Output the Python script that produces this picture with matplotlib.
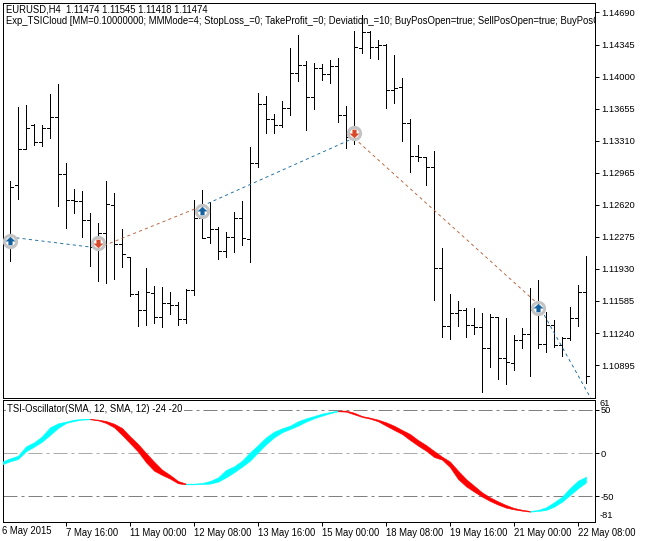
import numpy as np
import matplotlib
matplotlib.use('Agg')
import matplotlib.pyplot as plt
from matplotlib.path import Path

plt.rcParams['font.family'] = ['Liberation Sans', 'DejaVu Sans']

# EURUSD H4 bars (points, 1e-5)
bar_open = [112284, 112833, 113221, 113479, 113296, 113447, 113565, 112952, 112672, 112661,
            112456, 112166, 112317, 112618, 112198, 112058, 111660, 111488, 111671, 111412,
            111563, 111542, 111391, 111703, 112478, 112273, 112360, 112123, 112273, 112478,
            112252, 113070, 113705, 113544, 113479, 113662, 114039, 114125, 113780, 114093,
            114028, 114114, 113587, 113350, 114308, 114480, 114319, 114340, 113856, 113888,
            113501, 113145, 113135, 113027, 111940, 111315, 111455, 111488, 111326, 111305,
            111079, 111412, 110971, 110917, 111165, 111229, 111488, 111122, 111326, 111111,
            111186, 111402, 111681]
bar_high = [112876, 113673, 113694, 113490, 113479, 113813, 113920, 113070, 112790, 112769,
            112532, 112424, 112876, 112747, 112360, 112058, 111692, 111940, 111746, 111735,
            111681, 111574, 111714, 112672, 112779, 112650, 112381, 112327, 112543, 112661,
            113242, 113824, 113791, 113597, 113737, 114308, 114448, 114168, 114146, 114136,
            114179, 114200, 113684, 114491, 114663, 114491, 114394, 114351, 114233, 113985,
            113544, 113264, 113135, 113199, 112155, 111660, 111585, 111509, 111509, 111455,
            111445, 111412, 111402, 111219, 111294, 111725, 111811, 111466, 111380, 111197,
            111520, 111757, 112069]
bar_low = [112015, 112683, 113221, 113264, 113253, 113339, 112607, 112370, 112532, 112273,
           111961, 111800, 111778, 111821, 111951, 111638, 111315, 111326, 111348, 111305,
           111445, 111326, 111348, 111649, 112263, 112209, 112037, 112058, 112112, 112187,
           112004, 113027, 113393, 113393, 113458, 113587, 113953, 113425, 113651, 113963,
           113931, 113511, 113231, 113275, 114254, 114200, 114190, 113662, 113716, 113307,
           112973, 113092, 112833, 111595, 111197, 111176, 111315, 111197, 111229, 110605,
           110874, 110745, 110691, 110842, 111079, 110777, 111079, 111036, 111089, 110993,
           111165, 111315, 110702]
bar_close = [112812, 113221, 113447, 113296, 113447, 113565, 112952, 112672, 112661, 112456,
             112166, 112317, 112629, 112198, 112091, 111660, 111488, 111681, 111412, 111563,
             111542, 111391, 111703, 112478, 112263, 112360, 112123, 112273, 112478, 112263,
             113070, 113705, 113544, 113479, 113662, 114039, 114125, 113780, 114093, 114028,
             114114, 113587, 113350, 114319, 114480, 114319, 114340, 113856, 113877, 113501,
             113145, 113135, 113027, 111940, 111315, 111455, 111488, 111326, 111305, 111079,
             111412, 110971, 110928, 111165, 111229, 111488, 111122, 111326, 111111, 111186,
             111402, 111681, 110777]

# zigzag between the trade signals
zig_red_1 = ([-1, 0], [112263, 112273])
zig_blue_1 = ([0, 11], [112273, 112155])
zig_red_2 = ([11, 24], [112155, 112607])
zig_blue_2 = ([24, 43], [112607, 113339])
zig_red_3 = ([43, 66], [113339, 111552])
zig_blue_3 = ([66, 73], [111552, 110476])

buy_idx = [0, 24, 66]
buy_price = [112230, 112553, 111509]
sell_idx = [11, 43]
sell_price = [112209, 113393]

# TSI cloud, first value sits on the left border
tsi_upper = [-10.0, -6.2, -3.1, 7.8, 12.4, 19.4, 29.9, 34.5, 36.5, 38.8, 39.6, 39.6, 38.8, 37.2,
             34.1, 29.1, 19.4, 10.5, 0.0, -10.0, -19.3, -25.5, -32.5, -35.6, -35.6, -34.9, -32.5,
             -28.3, -19.7, -15.5, -8.9, 0.8, 9.3, 18.2, 24.8, 28.7, 31.8, 36.9, 40.3, 43.0, 45.8,
             47.7, 49.3, 49.3, 46.9, 43.0, 41.1, 38.8, 35.7, 31.8, 26.8, 22.1, 15.1, 9.3, 2.4,
             -4.2, -10.0, -20.5, -30.2, -38.0, -45.7, -51.5, -56.2, -60.4, -63.9, -65.9, -67.4,
             -66.2, -63.1, -57.3, -50.7, -40.7, -32.1, -27.5]
tsi_lower = [-13.1, -9.7, -7.0, 2.0, 7.4, 13.2, 21.0, 29.1, 34.9, 37.2, 38.8, 39.2, 38.0, 34.9,
             29.9, 21.0, 11.3, 1.6, -10.8, -20.5, -25.5, -29.8, -35.2, -36.4, -36.4, -36.0, -35.6,
             -33.3, -28.3, -22.4, -15.9, -8.9, 0.8, 10.1, 18.2, 24.1, 27.9, 31.8, 36.5, 40.3, 43.4,
             46.2, 48.5, 48.1, 45.0, 41.9, 39.9, 36.9, 31.8, 26.8, 22.1, 15.1, 8.6, 2.7, -4.6,
             -7.7, -16.6, -30.2, -38.7, -44.9, -50.7, -55.8, -60.0, -63.5, -65.5, -67.0, -68.2,
             -67.4, -66.2, -62.4, -56.6, -48.8, -41.0, -34.1]
# (first bar, last bar, colour) of each run of the cloud
tsi_runs = [(-1, 10, '#00FFFF'), (10, 22, '#FF0000'), (22, 41, '#00FFFF'),
            (41, 65, '#FF0000'), (65, 72, '#00FFFF')]

price_ticks = [114690, 114345, 114000, 113655, 113310, 112965, 112620, 112275, 111930, 111585,
               111240, 110895]
tsi_levels = [50, 0, -50]
date_idx = [7, 15, 23, 31, 39, 47, 55, 63, 71]
date_labels = ['7 May 16:00', '11 May 00:00', '12 May 08:00', '13 May 16:00', '15 May 00:00',
               '18 May 08:00', '19 May 16:00', '21 May 00:00', '22 May 08:00']

W, H = 646, 541
FS = 6.85
FS_AXIS = 6.7
LW = 0.72  # one pixel at dpi 100
X_LIM = (-0.94, 73.06)


def to_price(points):
    return np.asarray(points) / 100000.0


def px_rect(left, top, right, bottom):
    return [left / W, 1 - bottom / H, (right - left) / W, (bottom - top) / H]


def main():
    fig = plt.figure(figsize=(W / 100, H / 100), dpi=100)
    ax = fig.add_axes(px_rect(2.5, 2.5, 594.5, 397.5))
    sub = fig.add_axes(px_rect(2.5, 399.5, 594.5, 521.5))

    idx = np.arange(len(bar_open))
    ax.vlines(idx, to_price(bar_low), to_price(bar_high), color='black', lw=LW, antialiased=False)
    ax.hlines(to_price(bar_open), idx - 0.36, idx, color='black', lw=LW, antialiased=False)
    ax.hlines(to_price(bar_close), idx, idx + 0.36, color='black', lw=LW, antialiased=False)

    for xs, ys in (zig_blue_1, zig_blue_2, zig_blue_3):
        ax.plot(xs, to_price(ys), color='#1B6C9C', lw=0.65, dashes=(3.5, 3.5))
    for xs, ys in (zig_red_1, zig_red_2, zig_red_3):
        ax.plot(xs, to_price(ys), color='#B5603C', lw=0.65, dashes=(3.5, 3.5))

    arrow_up = Path([(0, 1), (-1, 0.05), (-0.42, 0.05), (-0.42, -0.8), (0.42, -0.8),
                     (0.42, 0.05), (1, 0.05), (0, 1)])
    arrow_down = Path([(0, -1), (-1, -0.05), (-0.42, -0.05), (-0.42, 0.8), (0.42, 0.8),
                       (0.42, -0.05), (1, -0.05), (0, -1)])
    for xs, ys, mark, col in ((buy_idx, buy_price, arrow_up, '#14619F'),
                              (sell_idx, sell_price, arrow_down, '#D8482A')):
        ax.plot(xs, to_price(ys), ls='none', marker='o', ms=8.8, mfc='white', mec='#C4C4C4', mew=2.2, zorder=4)
        ax.plot(xs, to_price(ys), ls='none', marker=mark, ms=6.5, mfc=col, mec=col, mew=0.2, zorder=5)

    ax.set_xlim(*X_LIM)
    ax.set_ylim(1.105458, 1.147976)
    ax.set_xticks([])
    ax.yaxis.tick_right()
    ax.set_yticks(to_price(price_ticks))
    ax.set_yticklabels([f'{p / 100000:.5f}' for p in price_ticks])
    ax.tick_params(axis='y', length=3, width=LW, pad=1.5, labelsize=FS_AXIS)

    fig.text(6 / W, 1 - 9.5 / H, 'EURUSD,H4  1.11474 1.11545 1.11418 1.11474', fontsize=FS, va='center')
    head = ax.text(3.5 / 592, 1 - 18.5 / 395,
                   'Exp_TSICloud [MM=0.10000000; MMMode=4; StopLoss_=0; TakeProfit_=0; Deviation_=10; '
                   'BuyPosOpen=true; SellPosOpen=true; BuyPosClose=true; SellPosClose=true]',
                   fontsize=FS, va='center', transform=ax.transAxes, clip_on=True)
    head.set_zorder(6)

    tsi_x = np.arange(-1, len(tsi_upper) - 1)
    up = np.array(tsi_upper)
    low = np.array(tsi_lower)
    for first, last, col in tsi_runs:
        keep = (tsi_x >= first) & (tsi_x <= last)
        sub.fill_between(tsi_x[keep], low[keep], up[keep], color=col, lw=0.4, zorder=3)

    sub.axhline(50, color='#808080', lw=LW, dashes=(14, 4, 3, 4), zorder=2)
    sub.axhline(0, color='#ABABAB', lw=LW, dashes=(14, 4, 3, 4), zorder=2)
    sub.axhline(-50, color='#808080', lw=LW, dashes=(14, 4, 3, 4), zorder=2)

    sub.set_xlim(*X_LIM)
    sub.set_ylim(-79.6, 62.2)
    sub.yaxis.tick_right()
    sub.set_yticks(tsi_levels)
    sub.set_yticklabels([str(v) for v in tsi_levels])
    sub.tick_params(axis='y', length=3, width=LW, pad=1.5, labelsize=FS_AXIS)
    sub.set_xticks(date_idx)
    sub.set_xticklabels(date_labels, ha='left')
    sub.tick_params(axis='x', length=3, width=LW, pad=1.5, labelsize=FS)
    sub.text(4.5 / 592, 1 - 9.2 / 122, 'TSI-Oscillator(SMA, 12, SMA, 12) -24 -20', fontsize=FS, va='center',
             transform=sub.transAxes, zorder=6, bbox=dict(fc='white', ec='none', pad=0.8))
    fig.text(2 / W, 1 - 530.5 / H, '6 May 2015', fontsize=FS, va='center')
    fig.text(600 / W, 1 - 404 / H, '61', fontsize=FS_AXIS, va='center')
    fig.text(600 / W, 1 - 515.5 / H, '-81', fontsize=FS_AXIS, va='center')

    for a in (ax, sub):
        for side in a.spines.values():
            side.set_linewidth(LW)

    fig.savefig('out.png', dpi=100)


if __name__ == "__main__":
    main()
